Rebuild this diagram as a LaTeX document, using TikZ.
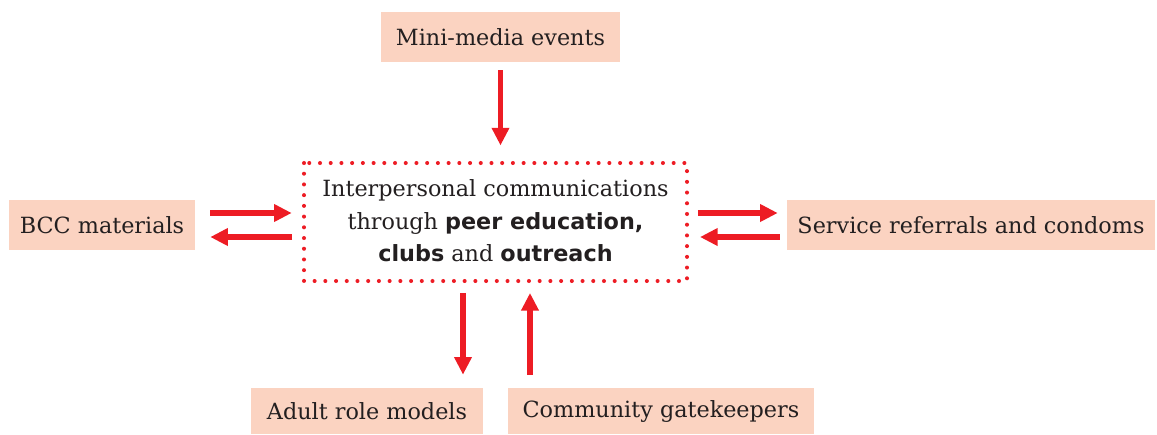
\documentclass[tikz,border=0pt]{standalone}
\usepackage{fontspec}
\setmainfont{DejaVu Serif}
\setsansfont{DejaVu Sans}
\usetikzlibrary{arrows.meta}
\definecolor{peachfill}{HTML}{FBD3C1}
\definecolor{linkred}{HTML}{ED1C24}
\definecolor{inkgray}{HTML}{231F20}
\newcommand{\hl}[1]{\textsf{\bfseries #1}}
\begin{document}
\begin{tikzpicture}[x=0.02cm, y=-0.02cm,
    font=\fontsize{12.7}{18.4}\selectfont, text=inkgray,
    peachbox/.style={fill=peachfill, minimum height=1cm, inner sep=0pt},
    dotframe/.style={draw=linkred, line width=2.3pt, line cap=round,
        dash pattern=on 0pt off 6.1pt},
    link/.style={draw=linkred, line width=3.1pt,
        -{Triangle[length=10pt, width=9.5pt]}}]
\useasboundingbox (0, 0) rectangle (1157, 434);
\node[peachbox, minimum width=4.78cm] (media) at (500.5, 37) {Mini-media events}; % top
\node[peachbox, minimum width=3.72cm] (bcc) at (102, 225) {BCC materials}; % left
\node[peachbox, minimum width=7.36cm] (service) at (971, 225) {Service referrals and condoms}; % right
\node[peachbox, minimum width=4.64cm, minimum height=0.92cm] (adult) at (367, 411) {Adult role models}; % bottom left
\node[peachbox, minimum width=6.12cm, minimum height=0.92cm] (gate) at (661, 411) {Community gatekeepers}; % bottom right
\draw[dotframe] (304, 163) rectangle (687, 281); % frame
\node[align=center] (ipc) at (495.5, 221) {Interpersonal communications\\
    through \hl{peer education,}\\ \hl{clubs} and \hl{outreach}}; % centre
\coordinate (frameN) at (500.5, 163);
\coordinate (frameW) at (304, 225);
\coordinate (frameE) at (687, 225);
\coordinate (downX) at (463, 281);
\coordinate (upX) at (530, 281);
\coordinate (rowA) at (0, 213);
\coordinate (rowB) at (0, 237);
\draw[link, shorten <=4.5pt, shorten >=10pt] (media.south) -- (frameN); % media -> ipc
\draw[link, shorten <=8.5pt, shorten >=7pt] (bcc.east |- rowA) -- (frameW |- rowA); % bcc -> ipc
\draw[link, shorten <=6.8pt, shorten >=8.5pt] (frameW |- rowB) -- (bcc.east |- rowB); % ipc -> bcc
\draw[link, shorten <=6.2pt, shorten >=5.1pt] (frameE |- rowA) -- (service.west |- rowA); % ipc -> service
\draw[link, shorten <=4pt, shorten >=7.4pt] (service.west |- rowB) -- (frameE |- rowB); % service -> ipc
\draw[link, shorten <=6.8pt, shorten >=7.4pt] (downX) -- (downX |- adult.north); % ipc -> adult
\draw[link, shorten <=7.4pt, shorten >=6.8pt] (upX |- gate.north) -- (upX); % gate -> ipc
\end{tikzpicture}
\end{document}
